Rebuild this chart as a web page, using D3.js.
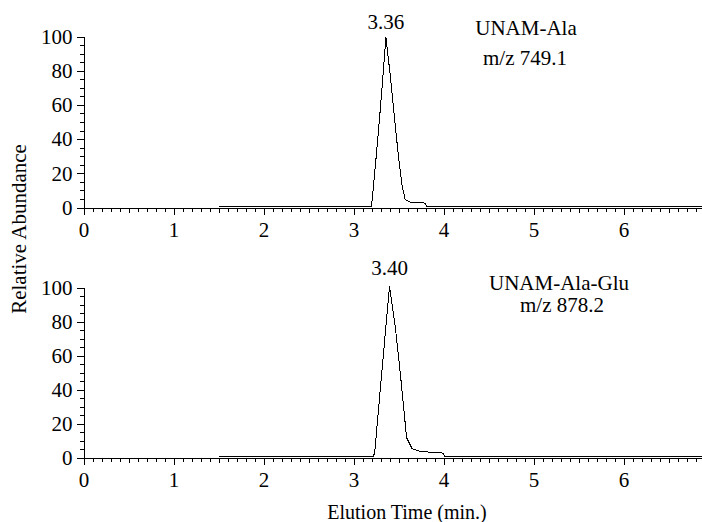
<!DOCTYPE html>
<html>
<head>
<meta charset="utf-8">
<script src="https://cdn.jsdelivr.net/npm/d3@7"></script>
<style>
  html, body { margin: 0; padding: 0; background: #fff; }
  svg { display: block; }
  text { font-family: "Liberation Serif", "Times New Roman", serif; fill: #000; }
</style>
</head>
<body>
<svg id="chart" width="702" height="522"></svg>
<script>
// Extracted ion chromatograms (relative abundance vs elution time, min)
const timeAla = [1.5, 3.20, 3.245, 3.29, 3.33, 3.36, 3.41, 3.455, 3.50, 3.54, 3.575, 3.63, 3.80, 3.81, 6.9];
const abundAla = [0, 0, 25, 52, 78, 99, 76, 52, 29, 12, 4, 2.5, 2, 0, 0];

const timeAlaGlu = [1.5, 3.219, 3.235, 3.30, 3.40, 3.467, 3.52, 3.59, 3.65, 3.74, 4.00, 4.01, 6.9];
const abundAlaGlu = [0, 0, 2, 41, 100, 75, 49, 11, 4.7, 3, 2, 0, 0];

const peakTimes = [3.36, 3.40];
const compoundNames = ["UNAM-Ala", "UNAM-Ala-Glu"];
const mzLabels = ["m/z 749.1", "m/z 878.2"];

const xTickValues = [0, 1, 2, 3, 4, 5, 6];
const yTickValues = [0, 20, 40, 60, 80, 100];

const svg = d3.select("#chart");
const FONT = 21;

const x = d3.scaleLinear().domain([0, 6.9]).range([83.5, 83.5 + 6.9 * 90]);

const panels = [
  { t: timeAla, a: abundAla, y0: 207.5, y1: 36.5, peak: peakTimes[0], name: compoundNames[0], mz: mzLabels[0],
    peakLabelY: 29, nameX: 526, nameY: 35, mzX: 525, mzY: 65 },
  { t: timeAlaGlu, a: abundAlaGlu, y0: 457.5, y1: 287.5, peak: peakTimes[1], name: compoundNames[1], mz: mzLabels[1],
    peakLabelY: 275, nameX: 559, nameY: 290, mzX: 562, mzY: 312 }
];

panels.forEach(p => {
  const y = d3.scaleLinear().domain([0, 100]).range([p.y0, p.y1]);
  const g = svg.append("g");

  // trace, sitting one pixel above the axis line so the baseline reads heavy
  const pts = p.t.map((t, i) => [t, p.a[i]]);
  g.append("path")
    .datum(pts)
    .attr("transform", "translate(0,-1)")
    .attr("fill", "none")
    .attr("stroke", "#000")
    .attr("stroke-width", 1)
    .attr("shape-rendering", "crispEdges")
    .attr("d", d3.line().x(d => x(d[0])).y(d => y(d[1])));

  // x axis: minor (0.1), half (0.5), major (1) ticks
  const xg = g.append("g").attr("transform", `translate(0,${p.y0})`);
  xg.append("g").call(d3.axisBottom(x).tickValues(d3.range(0, 69).map(i => i / 10)).tickSize(4).tickFormat(""));
  xg.append("g").call(d3.axisBottom(x).tickValues(d3.range(0, 14).map(i => i / 2)).tickSize(5).tickFormat(""));
  xg.append("g").call(d3.axisBottom(x).tickValues(xTickValues).tickSize(7).tickPadding(8).tickFormat(d3.format("d")));

  // y axis: minor (5) and major (20) ticks
  const yg = g.append("g").attr("transform", "translate(83.5,0)");
  yg.append("g").call(d3.axisLeft(y).tickValues(d3.range(0, 101, 5)).tickSize(4).tickFormat(""));
  yg.append("g").call(d3.axisLeft(y).tickValues(yTickValues).tickSize(7).tickPadding(4).tickFormat(d3.format("d")));

  g.selectAll(".domain").attr("stroke", "#000").attr("shape-rendering", "crispEdges")
    .attr("d", function() { return d3.select(this).attr("d").replace(/V6|H-6|V-6|H6/g, m => m[0] + "0"); });
  g.selectAll(".tick line").attr("stroke", "#000").attr("shape-rendering", "crispEdges");
  g.selectAll(".tick text").style("font-family", '"Liberation Serif", serif').style("font-size", FONT + "px").attr("fill", "#000");

  // annotations
  g.append("text").attr("x", x(p.peak)).attr("y", p.peakLabelY).attr("text-anchor", "middle")
    .style("font-size", FONT + "px").text(p.peak.toFixed(2));
  g.append("text").attr("x", p.nameX).attr("y", p.nameY).attr("text-anchor", "middle")
    .style("font-size", FONT + "px").text(p.name);
  g.append("text").attr("x", p.mzX).attr("y", p.mzY).attr("text-anchor", "middle")
    .style("font-size", FONT + "px").text(p.mz);
});

svg.append("text")
  .attr("transform", "translate(26,229) rotate(-90)")
  .attr("text-anchor", "middle")
  .style("font-size", FONT + "px")
  .text("Relative Abundance");

svg.append("text")
  .attr("x", 407).attr("y", 519)
  .attr("text-anchor", "middle")
  .style("font-size", "20px")
  .text("Elution Time (min.)");
</script>
</body>
</html>
